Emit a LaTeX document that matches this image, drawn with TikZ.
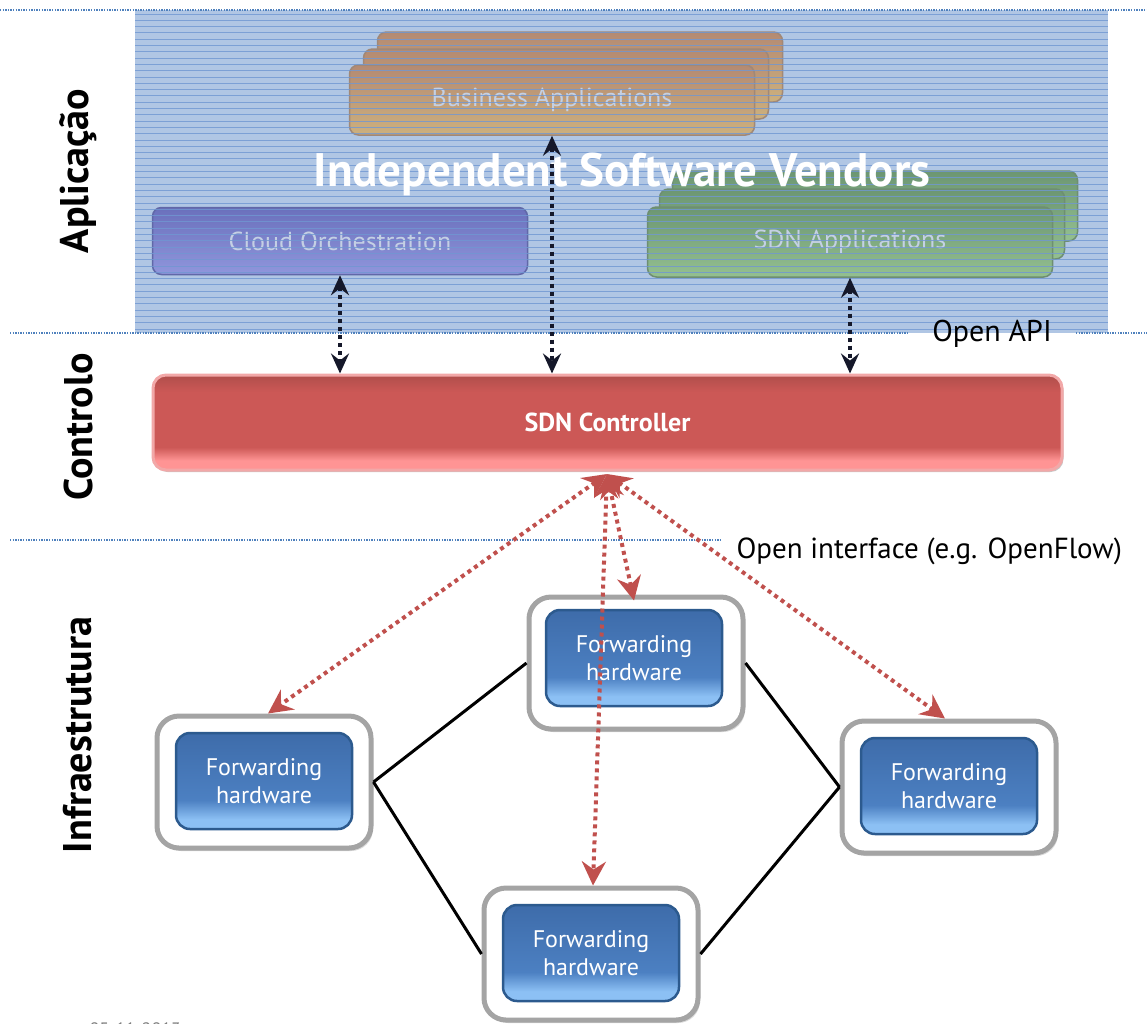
\documentclass[tikz,border=0pt]{standalone}
\usepackage{fontspec}
\setmainfont{PT Sans}
\usetikzlibrary{arrows.meta,shadows}

\definecolor{layerblue}{HTML}{4F81BD}
\definecolor{hatchbg}{HTML}{B0C6E4}
\definecolor{hatchln}{HTML}{7097D2}
\definecolor{apptext}{HTML}{C4D0E4}
\definecolor{ofred}{HTML}{C0504D}
\definecolor{apiblack}{HTML}{15182A}
\definecolor{bizdraw}{HTML}{A08878}
\definecolor{biztop}{HTML}{B48A72}
\definecolor{bizmid}{HTML}{BC9478}
\definecolor{bizbot}{HTML}{CCB07E}
\definecolor{sdndraw}{HTML}{6E8E72}
\definecolor{sdntop}{HTML}{6C9672}
\definecolor{sdnmid}{HTML}{76A07A}
\definecolor{sdnbot}{HTML}{94C090}
\definecolor{clouddraw}{HTML}{6068A8}
\definecolor{cloudtop}{HTML}{6A70BC}
\definecolor{cloudmid}{HTML}{7278C4}
\definecolor{cloudbot}{HTML}{9096DC}
\definecolor{ctrldraw}{HTML}{F2A8A8}
\definecolor{frame}{HTML}{A4A4A4}
\definecolor{swdraw}{HTML}{2C5A8E}
\definecolor{ctrllow}{HTML}{FF9494}
\definecolor{ctrlmain}{HTML}{CC5856}
\definecolor{ctrltop}{HTML}{B04E4B}
\definecolor{swlow}{HTML}{8CC0F4}
\definecolor{swmain}{HTML}{4C80C2}
\definecolor{swtop}{HTML}{3E6CAA}

% glossy vertical fills; the path covers 25bp..75bp (bottom to top)
\pgfdeclareverticalshading{ctrlshade}{100bp}{
  color(0bp)=(ctrllow);
  color(30bp)=(ctrllow);
  color(37bp)=(ctrlmain);
  color(66bp)=(ctrlmain);
  color(75bp)=(ctrltop);
  color(100bp)=(ctrltop)}

\pgfdeclareverticalshading{swshade}{100bp}{
  color(0bp)=(swlow);
  color(30bp)=(swlow);
  color(40bp)=(swmain);
  color(75bp)=(swtop);
  color(100bp)=(swtop)}

\tikzset{
  layerline/.style={draw=layerblue, line width=1.3pt, dash pattern=on 1.3pt off 1.3pt},
  hatchline/.style={draw=hatchln, line width=0.9pt, opacity=0.8},
  appbox/.style={rounded corners=9pt, line width=1.5pt, minimum width=405pt,
    minimum height=70pt, inner sep=0pt, text=apptext, font=\fontsize{26}{30}\selectfont},
  bizbox/.style={appbox, draw=bizdraw, top color=biztop, middle color=bizmid, bottom color=bizbot},
  sdnbox/.style={appbox, draw=sdndraw, top color=sdntop, middle color=sdnmid, bottom color=sdnbot},
  cloudbox/.style={appbox, draw=clouddraw, top color=cloudtop, middle color=cloudmid, bottom color=cloudbot},
  ctrlbox/.style={rounded corners=13pt, draw=ctrldraw, line width=3pt,
    shading=ctrlshade, minimum width=909pt, minimum height=95pt, text=white,
    font=\bfseries\fontsize{26}{30}\selectfont,
    drop shadow={shadow xshift=1.5pt, shadow yshift=-2pt, opacity=0.45}},
  swframe/.style={rounded corners=22pt, draw=frame, line width=5pt, fill=white,
    minimum width=214pt, minimum height=132pt,
    drop shadow={shadow xshift=2pt, shadow yshift=-3pt, opacity=0.3}},
  swcore/.style={rounded corners=14pt, draw=swdraw, line width=2.5pt,
    shading=swshade, minimum width=176pt, minimum height=96pt, align=center, text=white,
    font=\fontsize{24}{28}\selectfont},
  apiarrow/.style={draw=apiblack, line width=4pt, dash pattern=on 4pt off 4pt,
    {Stealth[length=20pt,width=18pt,inset=7pt]}-{Stealth[length=20pt,width=18pt,inset=7pt]}},
  ofarrow/.style={draw=ofred, line width=4pt, dash pattern=on 4pt off 4pt,
    {Stealth[length=24pt,width=24pt,inset=8pt]}-{Stealth[length=24pt,width=24pt,inset=8pt]}},
  link/.style={draw=black, line width=3pt},
  layerlabel/.style={rotate=90, font=\bfseries\fontsize{40}{44}\selectfont},
}

\begin{document}
\begin{tikzpicture}[x=1pt,y=-1pt]
\useasboundingbox (0,0) rectangle (1147,1023);

% application layer background with horizontal hatching
\fill[hatchbg] (135,10) rectangle (1108,333);

% business applications (stacked)
\node[bizbox] (bizB) at (580,67) {};
\node[bizbox] (bizM) at (566,84) {};
\node[bizbox] (biz) at (552,100) {Business Applications};

% SDN applications (stacked)
\node[sdnbox] (sdnB) at (875,206) {};
\node[sdnbox] (sdnM) at (862,224) {};
\node[sdnbox] (sdn) at (850,242) {SDN Applications};

% cloud orchestration
\node[cloudbox, minimum width=375pt, minimum height=67pt] (cloud) at (340,241) {Cloud Orchestration};

\foreach \y in {14,20.3,...,333} \draw[hatchline] (135,\y) -- (1108,\y);

\node[text=white, font=\bfseries\fontsize{47}{50}\selectfont] (isv) at (622,174) {Independent Software Vendors};

% layer separators
\draw[layerline] (0,10) -- (1147,10);
\draw[layerline] (10,333) -- (908,333);
\draw[layerline] (1076,333) -- (1147,333);
\draw[layerline] (10,540) -- (720,540);

\node[anchor=base, font=\fontsize{30}{34}\selectfont] (api) at (992,341) {Open API};

% layer labels
\node[layerlabel] (lapp) at (78,171) {Aplicação};
\node[layerlabel] (lctl) at (78,427) {Controlo};
\node[layerlabel] (linf) at (78,735) {Infraestrutura};

% controller
\node[ctrlbox] (ctrl) at (607.5,422.5) {SDN Controller};

% northbound API arrows
\draw[apiarrow] (cloud.south) -- (cloud.south |- ctrl.north);
\draw[apiarrow] (biz.south) -- (biz.south |- ctrl.north);
\draw[apiarrow] (sdn.south) -- (sdn.south |- ctrl.north);

% forwarding elements
\node[swframe] (sw1) at (264,782) {};
\node[swcore] (sw1c) at (264,781) {Forwarding\\hardware};
\node[swframe] (sw2) at (636,663) {};
\node[swcore] (sw2c) at (634,658) {Forwarding\\hardware};
\node[swframe] (sw3) at (949,787) {};
\node[swcore] (sw3c) at (949,786) {Forwarding\\hardware};
\node[swframe] (sw4) at (591,954) {};
\node[swcore] (sw4c) at (591,953) {Forwarding\\hardware};

% physical links
\draw[link] (sw1.east) -- (sw2.west);
\draw[link] (sw1.east) -- (sw4.west);
\draw[link] (sw2.east) -- (sw3.west);
\draw[link] (sw3.west) -- (sw4.east);

% southbound interface arrows
\coordinate (hub) at (607,474);
\draw[ofarrow] (hub) -- ([xshift=4pt]sw1.north);
\draw[ofarrow] (hub) -- ([xshift=2pt]sw4.north);
\draw[ofarrow] (hub) -- ([xshift=-2pt,yshift=-6pt]sw2.north);
\draw[ofarrow] (hub) -- ([xshift=-4pt]sw3.north);

\node[anchor=base west, font=\fontsize{29}{33}\selectfont] (ofl) at (733,558) {Open interface (e.g. OpenFlow)};

\node[anchor=base west, text=gray, font=\fontsize{18}{20}\selectfont] (date) at (86,1035) {05-11-2013};
\end{tikzpicture}
\end{document}
